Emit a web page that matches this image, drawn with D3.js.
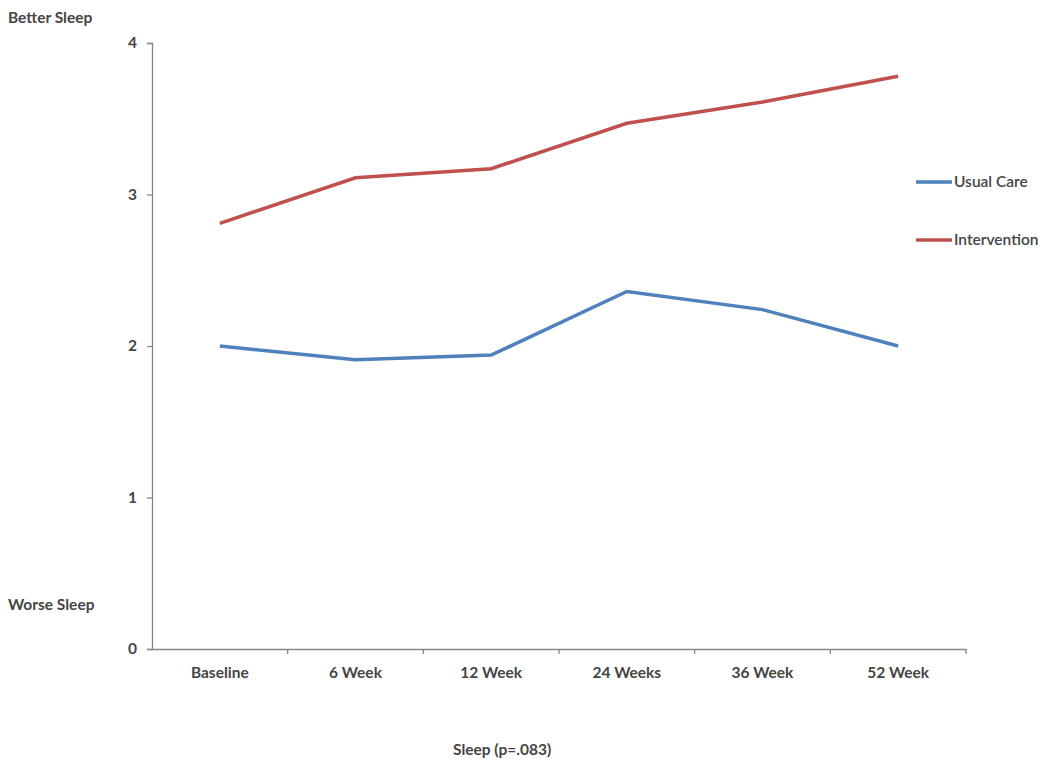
<!DOCTYPE html>
<html><head><meta charset="utf-8">
<script src="https://cdn.jsdelivr.net/npm/d3@7"></script>
<style>body{margin:0;background:#fff}</style>
</head><body>
<svg id="c" width="1050" height="769"></svg>
<script>
const categories = ["Baseline","6 Week","12 Week","24 Weeks","36 Week","52 Week"];
const usualCare = [2.00,1.91,1.94,2.36,2.24,2.00];
const intervention = [2.81,3.11,3.17,3.47,3.61,3.78];
const yTicks = [0,1,2,3,4];
const seriesNames = ["Usual Care","Intervention"];
const colors = ["#4F81BD","#C0504D"];

(function(){
const svg = d3.select("#c");
const font = "Lato, 'Open Sans', sans-serif";
const txt = "#454545";
const mLeft = 152, mRight = 966, mTop = 43, mBottom = 649;
const x = d3.scaleBand().domain(categories).range([mLeft,mRight]);
const y = d3.scaleLinear().domain([0,4]).range([mBottom,mTop]);

const gy = svg.append("g").attr("transform",`translate(${mLeft},0)`)
  .call(d3.axisLeft(y).tickValues(yTicks).tickFormat(d3.format("d")).tickSize(5).tickPadding(10));
const gx = svg.append("g").attr("transform",`translate(0,${mBottom})`)
  .call(d3.axisBottom(x).tickSize(0).tickPadding(18));
gx.selectAll(".bnd").data(categories).enter().append("line")
  .attr("x1",d=>x(d)+x.bandwidth()).attr("x2",d=>x(d)+x.bandwidth())
  .attr("y1",0).attr("y2",5);
[gx,gy].forEach(g=>{
  g.selectAll("path,line").attr("stroke","#868686").attr("stroke-width",1.3);
  g.selectAll("text").attr("font-family",font).attr("font-size",15.5).attr("font-weight","bold").attr("fill",txt);
});

const line = d3.line().x((d,i)=>x(categories[i])+x.bandwidth()/2).y(d=>y(d));
[usualCare,intervention].forEach((s,i)=>{
  svg.append("path").datum(s).attr("d",line).attr("fill","none")
    .attr("stroke",colors[i]).attr("stroke-width",3.5);
});

const ly = [182,240];
seriesNames.forEach((n,i)=>{
  svg.append("line").attr("x1",916).attr("x2",952).attr("y1",ly[i]).attr("y2",ly[i])
    .attr("stroke",colors[i]).attr("stroke-width",3.5);
  svg.append("text").attr("x",954).attr("y",ly[i]+5).text(n)
    .attr("font-family",font).attr("font-size",15.5).attr("font-weight",600).attr("fill",txt);
});

const labels = [["Better Sleep",8,23],["Worse Sleep",8,610],["Sleep (p=.083)",453,755]];
labels.forEach(([t,lx,lyy])=>{
  svg.append("text").attr("x",lx).attr("y",lyy).text(t)
    .attr("font-family",font).attr("font-size",15.5).attr("font-weight","bold").attr("fill",txt);
});
})();
</script>
</body></html>
